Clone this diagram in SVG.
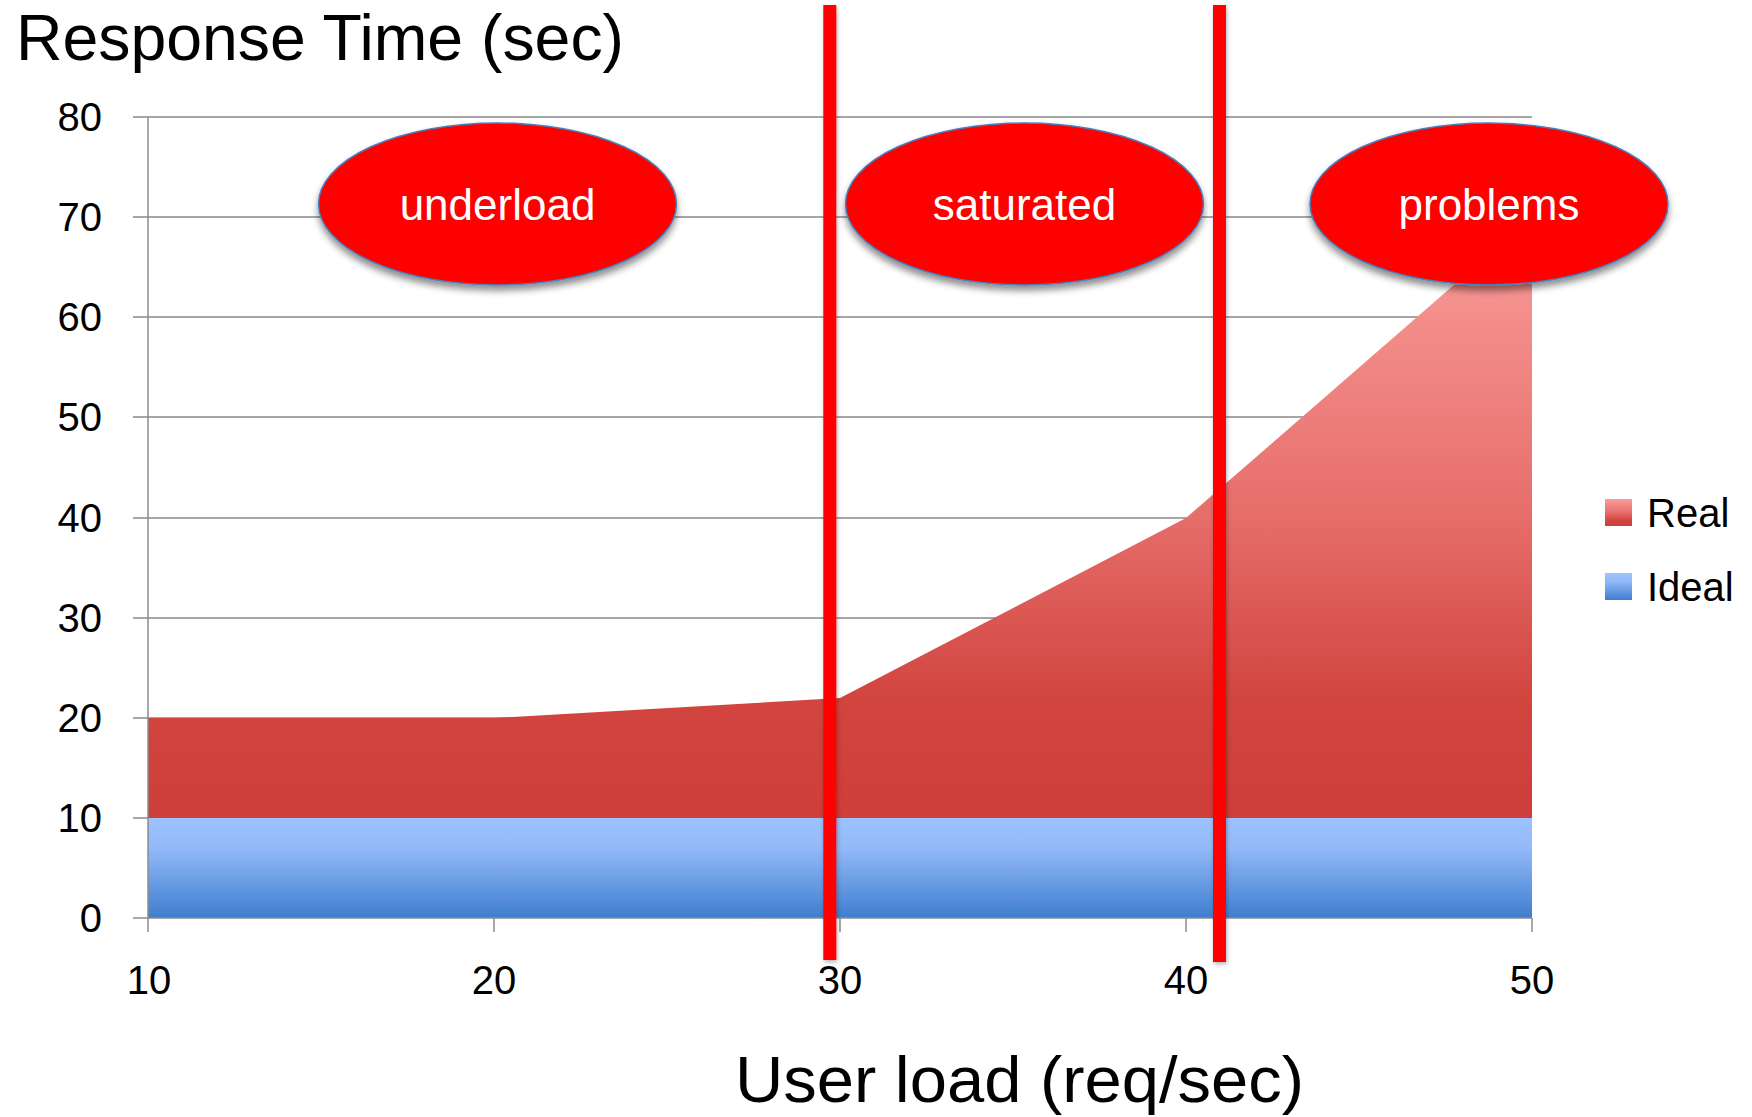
<svg xmlns="http://www.w3.org/2000/svg" width="1752" height="1117" viewBox="0 0 1752 1117">
<style>
  text { font-family: "Liberation Sans", Arial, sans-serif; fill: #000; }
  .grid { stroke: #888; stroke-width: 1.5; fill: none; }
  .axis { stroke: #8c8c8c; stroke-width: 1.5; fill: none; }
  .ylab { font-size: 40px; text-anchor: end; }
  .xlab { font-size: 40px; text-anchor: middle; }
  .big { font-size: 65px; }
  .bubble { fill: #ff0000; stroke: #4a7ebb; stroke-width: 1.5; }
  .btext { font-size: 44px; fill: #fff; text-anchor: middle; }
  .legtext { font-size: 40px; }
  .marker { fill: #ff0000; }
</style>
<defs>
  <linearGradient id="gReal" x1="0" y1="0" x2="0" y2="1">
    <stop offset="0" stop-color="#fa9e9b"/>
    <stop offset="0.5" stop-color="#e66d6a"/>
    <stop offset="0.8" stop-color="#d2453f"/>
    <stop offset="1" stop-color="#ce3e3a"/>
  </linearGradient>
  <linearGradient id="gIdeal" x1="0" y1="0" x2="0" y2="1">
    <stop offset="0" stop-color="#9cc2ff"/>
    <stop offset="0.3" stop-color="#93b9f8"/>
    <stop offset="1" stop-color="#3e7ecf"/>
  </linearGradient>
  <filter id="shadow" x="-10%" y="-10%" width="120%" height="130%">
    <feGaussianBlur in="SourceAlpha" stdDeviation="3.5"/>
    <feOffset dx="0" dy="5" result="b"/>
    <feFlood flood-color="#000" flood-opacity="0.45"/>
    <feComposite in2="b" operator="in"/>
    <feMerge><feMergeNode/><feMergeNode in="SourceGraphic"/></feMerge>
  </filter>
  <filter id="glow" filterUnits="userSpaceOnUse" x="0" y="0" width="1752" height="1117">
    <feGaussianBlur in="SourceAlpha" stdDeviation="2"/>
    <feOffset dx="1" dy="2" result="b"/>
    <feFlood flood-color="#000" flood-opacity="0.3"/>
    <feComposite in2="b" operator="in"/>
    <feMerge><feMergeNode/><feMergeNode in="SourceGraphic"/></feMerge>
  </filter>
</defs>
<rect width="1752" height="1117" fill="#fff"/>

<g id="title">
  <text class="big" x="16" y="60" textLength="608" lengthAdjust="spacingAndGlyphs">Response Time (sec)</text>
</g>

<g id="grid">
  <line class="grid" x1="133" y1="117" x2="1532" y2="117"/>
  <line class="grid" x1="133" y1="217" x2="1532" y2="217"/>
  <line class="grid" x1="133" y1="317" x2="1532" y2="317"/>
  <line class="grid" x1="133" y1="417" x2="1532" y2="417"/>
  <line class="grid" x1="133" y1="518" x2="1532" y2="518"/>
  <line class="grid" x1="133" y1="618" x2="1532" y2="618"/>
  <line class="grid" x1="133" y1="718" x2="1532" y2="718"/>
  <line class="grid" x1="133" y1="818" x2="1532" y2="818"/>
</g>

<g id="series-real">
  <polygon points="148,718 494,718 840,698 1186,518 1532,217 1532,818 148,818" fill="url(#gReal)"/>
</g>
<g id="series-ideal">
  <rect x="148" y="818" width="1384" height="100" fill="url(#gIdeal)"/>
</g>

<g id="axes">
  <line class="axis" x1="133" y1="918" x2="1532" y2="918"/>
  <line class="axis" x1="148" y1="117" x2="148" y2="932"/>
  <line class="axis" x1="494" y1="918" x2="494" y2="932"/>
  <line class="axis" x1="840" y1="918" x2="840" y2="932"/>
  <line class="axis" x1="1186" y1="918" x2="1186" y2="932"/>
  <line class="axis" x1="1532" y1="918" x2="1532" y2="932"/>
</g>

<g id="y-labels">
  <text class="ylab" x="102" y="131">80</text>
  <text class="ylab" x="102" y="231">70</text>
  <text class="ylab" x="102" y="331">60</text>
  <text class="ylab" x="102" y="431">50</text>
  <text class="ylab" x="102" y="532">40</text>
  <text class="ylab" x="102" y="632">30</text>
  <text class="ylab" x="102" y="732">20</text>
  <text class="ylab" x="102" y="832">10</text>
  <text class="ylab" x="102" y="932">0</text>
</g>

<g id="x-labels">
  <text class="xlab" x="149" y="994">10</text>
  <text class="xlab" x="494" y="994">20</text>
  <text class="xlab" x="840" y="994">30</text>
  <text class="xlab" x="1186" y="994">40</text>
  <text class="xlab" x="1532" y="994">50</text>
</g>

<g id="x-title">
  <text class="big" x="735" y="1102" textLength="569" lengthAdjust="spacingAndGlyphs">User load (req/sec)</text>
</g>

<g id="boundaries" filter="url(#glow)">
  <rect class="marker" x="823.3" y="5" width="13" height="955"/>
  <rect class="marker" x="1213" y="5" width="13" height="957"/>
</g>

<g id="node-underload">
  <ellipse class="bubble" cx="497.5" cy="204" rx="179" ry="81" filter="url(#shadow)"/>
  <text class="btext" x="497.5" y="220">underload</text>
</g>
<g id="node-saturated">
  <ellipse class="bubble" cx="1024.5" cy="204" rx="179" ry="81" filter="url(#shadow)"/>
  <text class="btext" x="1024.5" y="220">saturated</text>
</g>
<g id="node-problems">
  <ellipse class="bubble" cx="1489" cy="204" rx="179" ry="81" filter="url(#shadow)"/>
  <text class="btext" x="1489" y="220">problems</text>
</g>

<g id="legend">
  <rect x="1605" y="499" width="27" height="27" fill="url(#gReal)"/>
  <text class="legtext" x="1647" y="527">Real</text>
  <rect x="1605" y="573" width="27" height="27" fill="url(#gIdeal)"/>
  <text class="legtext" x="1647" y="601">Ideal</text>
</g>
</svg>
